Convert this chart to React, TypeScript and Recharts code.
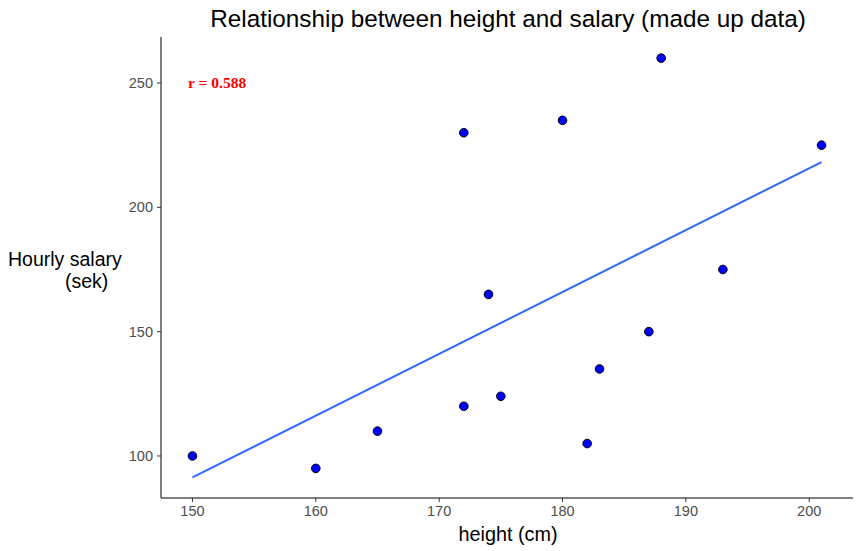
import React from 'react';
import { ScatterChart, Scatter, XAxis, YAxis } from 'recharts';

const heights = [150, 160, 165, 172, 172, 174, 175, 180, 182, 183, 187, 188, 193, 201];
const salaries = [100, 95, 110, 230, 120, 165, 124, 235, 105, 135, 150, 260, 175, 225];
const xTicks = [150, 160, 170, 180, 190, 200];
const yTicks = [100, 150, 200, 250];
const titleText = 'Relationship between height and salary (made up data)';
const xLabel = 'height (cm)';
const yLabelLines = ['Hourly salary', '(sek)'];
const annotationPos = { x: 152, y: 250 };

const points = heights.map((h, i) => ({ x: h, y: salaries[i] }));

const n = heights.length;
const mx = heights.reduce((a, b) => a + b, 0) / n;
const my = salaries.reduce((a, b) => a + b, 0) / n;
let sxx = 0, syy = 0, sxy = 0;
for (let i = 0; i < n; i++) {
  sxx += (heights[i] - mx) ** 2;
  syy += (salaries[i] - my) ** 2;
  sxy += (heights[i] - mx) * (salaries[i] - my);
}
const slope = sxy / sxx;
const intercept = my - slope * mx;
const r = sxy / Math.sqrt(sxx * syy);
const xMin = Math.min(...heights);
const xMax = Math.max(...heights);
const fitLine = [
  { x: xMin, y: intercept + slope * xMin },
  { x: xMax, y: intercept + slope * xMax },
];
const annotation = [{ x: annotationPos.x, y: annotationPos.y, label: `r = ${r.toFixed(3)}` }];

const FONT = '"Liberation Sans", Arial, sans-serif';

const Dot = (p: any) => (
  <circle cx={p.cx} cy={p.cy} r={4.3} fill="#0000FF" stroke="#000000" strokeWidth={1} />
);
const NoShape = () => <g />;
const TextShape = (p: any) => (
  <text
    x={p.cx}
    y={p.cy}
    dy="0.35em"
    textAnchor="middle"
    fill="#FF0000"
    fontFamily='"Liberation Serif", "Times New Roman", serif'
    fontWeight="bold"
    fontSize={15.5}
  >
    {p.payload.label}
  </text>
);

export default function App() {
  return (
    <div style={{ position: 'absolute', left: 0, top: 0, width: 862, height: 551, background: '#fff' }}>
      <ScatterChart
        width={862}
        height={551}
        margin={{ top: 37, right: 9, bottom: 0, left: 101 }}
        style={{ fontFamily: FONT }}
      >
        <XAxis
          type="number"
          dataKey="x"
          domain={[147.45, 203.55]}
          ticks={xTicks}
          allowDataOverflow
          height={53}
          tickSize={4}
          tickMargin={4}
          stroke="#000000"
          tickLine={{ stroke: '#333333' }}
          tick={{ fill: '#4D4D4D', fontSize: 14.5, fontFamily: FONT }}
        />
        <YAxis
          type="number"
          dataKey="y"
          domain={[83.1, 268.5]}
          ticks={yTicks}
          allowDataOverflow
          width={60}
          tickSize={4}
          tickMargin={4}
          stroke="#000000"
          tickLine={{ stroke: '#333333' }}
          tick={{ fill: '#4D4D4D', fontSize: 14.5, fontFamily: FONT }}
        />
        <Scatter
          data={points}
          shape={Dot}
          isAnimationActive={false}
        />
        <Scatter
          data={fitLine}
          line={{ stroke: '#3366FF', strokeWidth: 2 }}
          shape={NoShape}
          isAnimationActive={false}
        />
        <Scatter
          data={annotation}
          shape={TextShape}
          isAnimationActive={false}
        />
      </ScatterChart>
      <svg
        width={862}
        height={551}
        style={{ position: 'absolute', left: 0, top: 0, pointerEvents: 'none' }}
      >
        <text x={508} y={27} textAnchor="middle" fontFamily={FONT} fontSize={24.3} fill="#000">
          {titleText}
        </text>
        <text x={508} y={541} textAnchor="middle" fontFamily={FONT} fontSize={19.8} fill="#000">
          {xLabel}
        </text>
        <text x={8} y={266} fontFamily={FONT} fontSize={19.5} fill="#000">
          {yLabelLines[0]}
        </text>
        <text x={65} y={288} fontFamily={FONT} fontSize={19.5} fill="#000">
          {yLabelLines[1]}
        </text>
      </svg>
    </div>
  );
}
